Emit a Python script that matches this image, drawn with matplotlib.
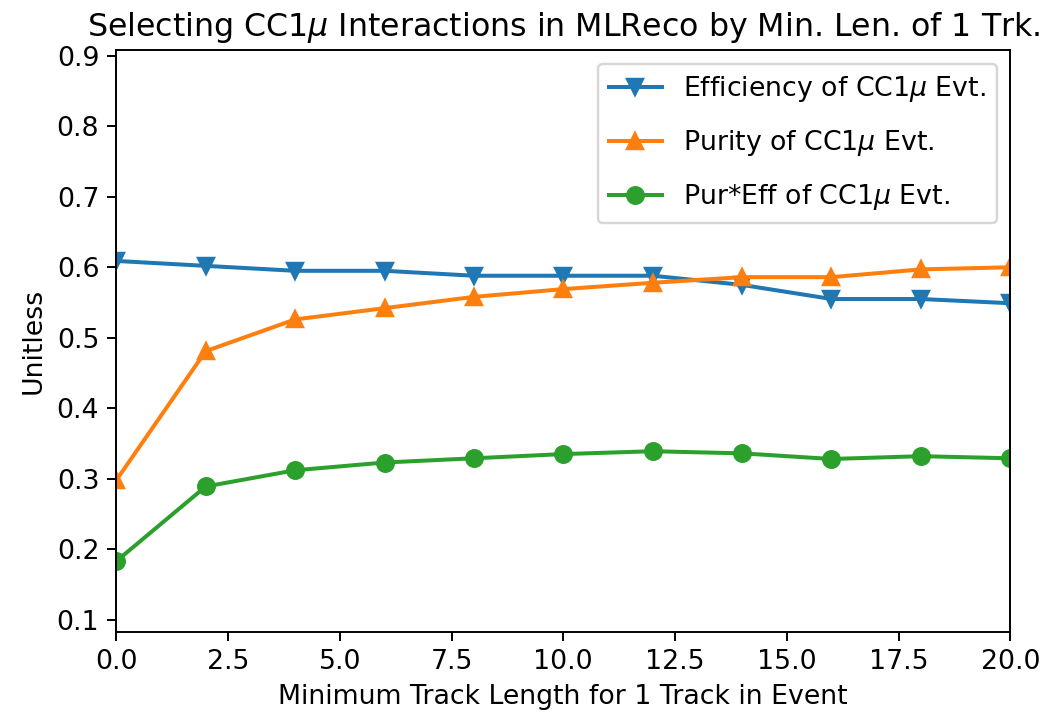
import matplotlib.pyplot as plt
import numpy as np

# Minimum track length cuts and the resulting selection metrics
min_len = [0, 2, 4, 6, 8, 10, 12, 14, 16, 18, 20]
efficiency = [0.609, 0.602, 0.595, 0.595, 0.588, 0.588, 0.588, 0.575, 0.555, 0.555, 0.549]
purity = [0.298, 0.481, 0.526, 0.542, 0.558, 0.569, 0.578, 0.586, 0.586, 0.597, 0.600]
pur_eff = [0.183, 0.289, 0.312, 0.323, 0.329, 0.335, 0.339, 0.336, 0.328, 0.332, 0.329]

plt.rcParams["font.size"] = 11.0
plt.rcParams["lines.markersize"] = 6.8
plt.rcParams["lines.linewidth"] = 1.65

fig = plt.figure(figsize=(1048 / 175, 717 / 175), dpi=175)
ax = fig.add_axes([0.111, 0.119, 0.853, 0.811])

ax.plot(min_len, efficiency, marker="v", label=r"Efficiency of CC1$\mu$ Evt.")
ax.plot(min_len, purity, marker="^", label=r"Purity of CC1$\mu$ Evt.")
ax.plot(min_len, pur_eff, marker="o", label=r"Pur*Eff of CC1$\mu$ Evt.")

ax.set_xlim(0, 20)
ax.set_ylim(0.083, 0.908)
ax.set_title(r"Selecting CC1$\mu$ Interactions in MLReco by Min. Len. of 1 Trk.",
             fontsize=13.0)
ax.set_xlabel("Minimum Track Length for 1 Track in Event")
ax.set_ylabel("Unitless")
ax.legend(loc="upper right", labelspacing=0.9)

fig.savefig("out.png", dpi=175)
